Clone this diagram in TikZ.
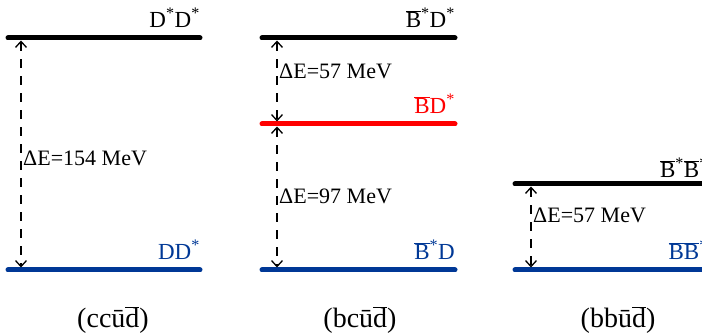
\documentclass[tikz,border=0pt]{standalone}
\usepackage{fontspec}
\setmainfont{Liberation Serif}
\usetikzlibrary{arrows.meta}
\definecolor{lvlblue}{RGB}{0,56,150}
\definecolor{lvlred}{RGB}{255,0,0}
\newcommand{\bbar}[1]{$\overline{\mbox{#1}}$}
\newcommand{\st}{\textsuperscript{*}}
\tikzset{
  level/.style={line width=5pt, line cap=round},
  gap/.style={line width=1.3pt, dash pattern=on 9pt off 8pt,
    {Straight Barb[length=6pt,width=11pt]}-{Straight Barb[length=6pt,width=11pt]}},
  dlabel/.style={anchor=west, inner sep=0pt, font=\fontsize{22}{26}\selectfont},
  slabel/.style={anchor=base east, inner sep=0pt, font=\fontsize{23}{27}\selectfont},
  qlabel/.style={anchor=base, inner sep=0pt, font=\fontsize{28}{32}\selectfont},
}
\begin{document}
\begin{tikzpicture}[x=1pt,y=1pt]
  \useasboundingbox (0,0) rectangle (702,336);
  % (cc ubar dbar)
  \coordinate (ccTopL) at (8,298);  \coordinate (ccTopR) at (200,298);
  \coordinate (ccBotL) at (8,66);   \coordinate (ccBotR) at (200,66);
  \coordinate (ccA) at (21,295.5);  \coordinate (ccB) at (21,68.5);
  \draw[level] (ccTopL) -- (ccTopR);
  \draw[level, lvlblue] (ccBotL) -- (ccBotR);
  \draw[gap] (ccA) -- (ccB);
  \node[dlabel] (ccGap) at (23,178) {ΔE=154 MeV};
  \node[slabel] (ccUp) at (200,308) {D\st D\st};
  \node[slabel, text=lvlblue] (ccLow) at (200,76) {DD\st};
  \node[qlabel] (ccName) at (113,8) {(cc\=u\bbar{d})};
  % (bc ubar dbar)
  \begin{scope}[xshift=254pt]
  \coordinate (bcTopL) at (8,298);  \coordinate (bcTopR) at (201,298);
  \coordinate (bcMidL) at (8,212);  \coordinate (bcMidR) at (201,212);
  \coordinate (bcBotL) at (8,66);   \coordinate (bcBotR) at (201,66);
  \coordinate (bcA) at (23,295.5);  \coordinate (bcB) at (23,214.5);
  \coordinate (bcC) at (23,209.5);  \coordinate (bcD) at (23,68.5);
  \draw[level] (bcTopL) -- (bcTopR);
  \draw[level, lvlred] (bcMidL) -- (bcMidR);
  \draw[level, lvlblue] (bcBotL) -- (bcBotR);
  \draw[gap] (bcA) -- (bcB);
  \draw[gap] (bcC) -- (bcD);
  \node[dlabel] (bcGapA) at (25,265) {ΔE=57 MeV};
  \node[dlabel] (bcGapB) at (25,140) {ΔE=97 MeV};
  \node[slabel] (bcUp) at (201,308) {\bbar{B}\st D\st};
  \node[slabel, text=lvlred] (bcMid) at (201,222) {\bbar{B}D\st};
  \node[slabel, text=lvlblue] (bcLow) at (201,76) {\bbar{B}\st D};
  \node[qlabel] (bcName) at (106,8) {(bc\=u\bbar{d})};
  \end{scope}
  % (bb ubar dbar)
  \begin{scope}[xshift=507pt]
  \coordinate (bbTopL) at (8,152);  \coordinate (bbTopR) at (201,152);
  \coordinate (bbBotL) at (8,66);   \coordinate (bbBotR) at (201,66);
  \coordinate (bbA) at (24,149.5);  \coordinate (bbB) at (24,68.5);
  \draw[level] (bbTopL) -- (bbTopR);
  \draw[level, lvlblue] (bbBotL) -- (bbBotR);
  \draw[gap] (bbA) -- (bbB);
  \node[dlabel] (bbGap) at (26,121) {ΔE=57 MeV};
  \node[slabel] (bbUp) at (201,158) {\bbar{B}\st\bbar{B}\st};
  \node[slabel, text=lvlblue] (bbLow) at (201,76) {\bbar{B}\bbar{B}\st};
  \node[qlabel] (bbName) at (111,8) {(bb\=u\bbar{d})};
  \end{scope}
\end{tikzpicture}
\end{document}
